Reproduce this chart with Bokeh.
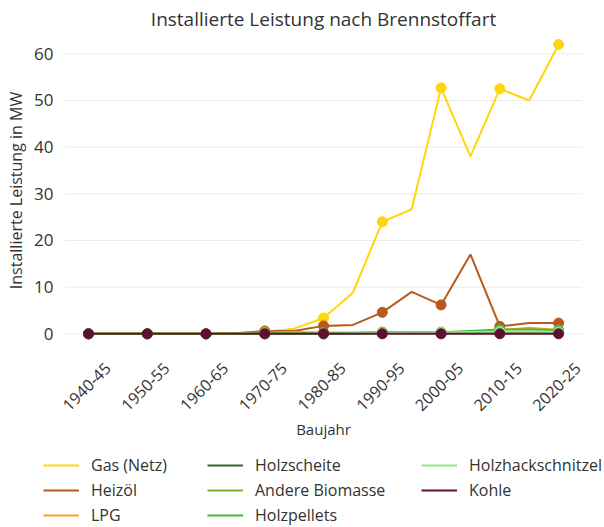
import math
from bokeh.plotting import figure
from bokeh.models import (ColumnDataSource, Range1d, Legend, LegendItem,
                          LabelSet, Label)
from bokeh.core.properties import value
from bokeh.embed import file_html
from bokeh.resources import INLINE

# ---------------- data ----------------
categories = ["1940-45", "1945-50", "1950-55", "1955-60", "1960-65", "1965-70",
              "1970-75", "1975-80", "1980-85", "1985-90", "1990-95", "1995-00",
              "2000-05", "2005-10", "2010-15", "2015-20", "2020-25"]

gas = [0, 0, 0, 0, 0, 0.1, 0.4, 1.1, 3.4, 8.8, 24.0, 26.7, 52.7, 38.0, 52.5, 50.0, 62.0]
heizoel = [0, 0, 0, 0, 0, 0.1, 0.6, 0.6, 1.7, 1.9, 4.6, 9.0, 6.2, 17.0, 1.6, 2.3, 2.3]
lpg = [0, 0, 0, 0, 0, 0.1, 0.3, 0.4, 0.3, 0.3, 0.4, 0.4, 0.4, 0.5, 0.8, 1.3, 0.8]
holzscheite = [0, 0, 0, 0, 0, 0, 0.1, 0.1, 0.2, 0.2, 0.2, 0.2, 0.2, 0.2, 0.3, 0.3, 0.3]
andere_biomasse = [0, 0, 0, 0, 0, 0, 0, 0.1, 0.1, 0.2, 0.3, 0.2, 0.2, 0.2, 0.3, 0.3, 0.3]
holzpellets = [0, 0, 0, 0, 0, 0, 0, 0, 0, 0.1, 0.2, 0.2, 0.3, 0.6, 0.9, 0.9, 0.8]
holzhackschnitzel = [0, 0, 0, 0, 0, 0, 0, 0, 0, 0.1, 0.2, 0.2, 0.3, 0.4, 0.5, 0.5, 0.4]
kohle = [0] * 17

series_names = ["Gas (Netz)", "Heizöl", "LPG", "Holzscheite", "Andere Biomasse",
                "Holzpellets", "Holzhackschnitzel", "Kohle"]
series_values = [gas, heizoel, lpg, holzscheite, andere_biomasse, holzpellets,
                 holzhackschnitzel, kohle]
colors = ["#FFD60A", "#B85A1B", "#F9A21B", "#2E6B2A", "#7DB32A", "#3DB83A",
          "#8EE88A", "#5E0F32"]

y_ticks = [0, 10, 20, 30, 40, 50, 60]
tick_labels = categories[::2]

title_text = "Installierte Leistung nach Brennstoffart"
y_title = "Installierte Leistung in MW"
x_title = "Baujahr"

FONT = "Open Sans"
TEXT = "#333333"

idx = list(range(len(categories)))
n = len(categories)

# frame fills the whole canvas; all texts are placed as annotations
W, H = 604, 527
p = figure(width=W, height=H, output_backend="svg", toolbar_location=None,
           x_range=Range1d(-2.995, 17.563), y_range=Range1d(-41.5, 71.42),
           x_axis_location=None, y_axis_location=None, min_border=0)
p.outline_line_color = None
p.xgrid.visible = False
p.ygrid.visible = False
p.background_fill_color = "white"
p.border_fill_color = "white"

# horizontal grid lines across the plot area
p.segment(x0=[-0.79] * len(y_ticks), x1=[n - 1 + 0.79] * len(y_ticks),
          y0=y_ticks, y1=y_ticks, line_color="#EBEBEB", line_width=1)

# title
p.add_layout(Label(x=323, y=H - 18, x_units="screen", y_units="screen",
                   text=title_text, text_align="center", text_baseline="middle",
                   text_font=FONT, text_font_size="19px", text_color=TEXT))
# y axis title
p.add_layout(Label(x=15, y=H - 190, x_units="screen", y_units="screen",
                   text=y_title, angle=math.pi / 2, text_align="center",
                   text_baseline="middle", text_font=FONT, text_font_size="16px",
                   text_color=TEXT))
# y tick labels
ysrc = ColumnDataSource(dict(x=[53] * len(y_ticks), y=y_ticks,
                             text=[str(t) for t in y_ticks]))
p.add_layout(LabelSet(x="x", y="y", text="text", source=ysrc, x_units="screen",
                      text_align="right", text_baseline="middle",
                      text_font=value(FONT), text_font_size=value("17px"),
                      text_color=TEXT))
# x tick labels (rotated, centred on their tick)
xsrc = ColumnDataSource(dict(x=idx[::2], y=[H - 386] * len(tick_labels),
                             text=tick_labels))
p.add_layout(LabelSet(x="x", y="y", text="text", source=xsrc, y_units="screen",
                      angle=math.pi / 4, text_align="center", text_baseline="middle",
                      x_offset=-2, text_font=value(FONT),
                      text_font_size=value("16px"), text_color=TEXT))
# x axis title
p.add_layout(Label(x=323, y=H - 428, x_units="screen", y_units="screen",
                   text=x_title, text_align="center", text_baseline="middle",
                   text_font=FONT, text_font_size="15px", text_color=TEXT))

items = []
for name, vals, col in zip(series_names, series_values, colors):
    r = p.line(idx, vals, line_color=col, line_width=2)
    p.scatter(idx[::2], vals[::2], size=10, fill_color=col, line_color=col)
    items.append(LegendItem(label=name, renderers=[r]))

top = 454  # legend top (canvas px)
row_h, gap = 22, 3
for its, xo in [(items[0:3], 43), (items[3:6], 207), (items[6:8], 421)]:
    h = len(its) * row_h + (len(its) - 1) * gap
    leg = Legend(items=its, location=(xo, H - top - h), orientation="vertical",
                 glyph_width=36, glyph_height=row_h, label_height=row_h,
                 spacing=gap, padding=0, margin=0, label_standoff=12,
                 border_line_color=None, background_fill_alpha=0,
                 label_text_font=FONT, label_text_font_size="16px",
                 label_text_color=TEXT)
    p.add_layout(leg)

open("out.html", "w").write(file_html(p, INLINE))
